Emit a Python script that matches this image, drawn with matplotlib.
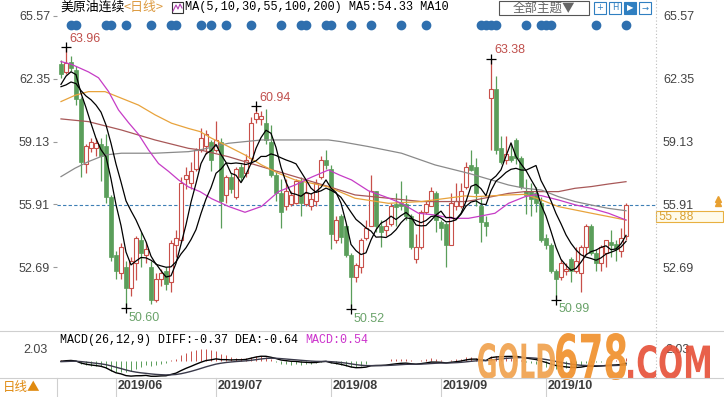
import numpy as np
import pandas as pd
import matplotlib
matplotlib.use("Agg")
import matplotlib.pyplot as plt
from matplotlib.patches import Rectangle, PathPatch
from matplotlib.textpath import TextPath
from matplotlib.font_manager import FontProperties
from matplotlib.transforms import Affine2D
from matplotlib.lines import Line2D

plt.rcParams['font.family'] = ['Liberation Sans', 'Noto Sans CJK SC', 'DejaVu Sans']

# ---- data ----
dates = pd.bdate_range("2019-05-17", "2019-10-23")

opens = [63.1, 62.7, 63.2, 62.8, 61.3, 58.0, 58.8, 58.8, 59.0, 58.9,
         56.3, 53.3, 52.4, 52.7, 51.6, 52.9, 54.1, 53.3, 52.7, 51.0,
         52.1, 52.5, 51.9, 53.8, 54.1, 57.2, 57.0, 57.7, 58.7, 58.9,
         59.1, 58.7, 59.1, 56.4, 57.3, 56.3, 57.8, 57.5, 58.3, 60.3,
         60.3, 60.1, 59.1, 57.4, 56.5, 55.8, 55.9, 56.0, 57.1, 55.9,
         55.8, 56.1, 57.3, 58.2, 57.7, 54.1, 55.3, 54.8, 53.3, 52.2,
         52.7, 54.2, 54.8, 56.6, 54.8, 54.6, 54.9, 55.9, 56.0, 55.9,
         55.3, 53.1, 53.7, 55.5, 55.8, 56.5, 55.0, 54.9, 53.8, 55.8,
         55.8, 56.8, 57.9, 57.8, 55.8, 55.0, 61.35, 61.8, 58.8, 58.2,
         58.4, 59.2, 58.3, 56.6, 56.6, 56.5, 56.0, 54.2, 53.8, 52.5,
         52.2, 52.5, 53.1, 52.5, 52.4, 53.7, 54.8, 53.4, 52.9, 53.4,
         54.0, 53.85, 53.5, 54.3]
highs = [63.3, 63.96, 63.5, 63.0, 61.4, 59.0, 59.3, 59.3, 59.3, 59.5,
         56.4, 53.5, 53.9, 53.0, 53.2, 54.3, 54.5, 54.0, 53.0, 52.4,
         52.6, 52.7, 54.1, 54.6, 57.3, 57.8, 58.1, 58.8, 59.8, 59.7,
         59.2, 60.2, 59.3, 57.4, 57.5, 57.8, 58.0, 58.5, 60.4, 60.94,
         60.7, 60.8, 60.0, 57.6, 57.2, 57.2, 56.6, 57.2, 57.3, 57.2,
         56.5, 57.2, 58.4, 58.7, 57.9, 55.3, 55.4, 54.9, 53.4, 52.9,
         54.2, 55.1, 57.4, 56.6, 55.1, 55.1, 56.0, 56.5, 57.1, 56.4,
         55.4, 54.4, 55.6, 56.1, 56.8, 56.6, 55.1, 55.0, 56.5, 57.0,
         57.0, 58.1, 58.7, 58.3, 56.3, 55.3, 63.38, 62.5, 59.4, 59.4,
         59.0, 59.3, 58.4, 57.2, 57.0, 56.8, 56.3, 54.4, 53.9, 52.6,
         53.1, 52.9, 53.2, 53.7, 53.8, 54.9, 54.9, 53.6, 53.8, 54.1,
         54.6, 54.1, 54.7, 56.0]
lows = [62.4, 62.6, 62.75, 61.0, 57.3, 57.5, 58.6, 58.4, 57.1, 56.0,
        53.0, 52.1, 52.1, 50.60, 51.2, 52.0, 52.7, 52.9, 50.8, 50.9,
        51.7, 51.5, 51.4, 53.2, 54.0, 56.7, 56.7, 57.6, 58.6, 58.5,
        57.6, 58.6, 54.7, 56.0, 56.5, 56.2, 57.1, 57.3, 58.0, 60.1,
        60.0, 59.0, 57.3, 56.1, 54.7, 55.6, 55.8, 55.9, 55.3, 55.8,
        55.6, 55.8, 57.2, 57.7, 53.6, 53.9, 53.9, 53.2, 50.52, 51.9,
        52.4, 54.1, 54.8, 54.5, 53.7, 54.3, 54.8, 54.8, 55.6, 55.1,
        53.6, 52.9, 53.6, 55.4, 55.8, 54.5, 54.1, 52.7, 53.8, 55.6,
        55.7, 56.7, 57.6, 55.8, 54.0, 54.3, 58.7, 58.5, 58.0, 58.0,
        58.1, 58.0, 56.7, 55.4, 55.3, 55.5, 54.0, 53.6, 52.4, 50.99,
        52.0, 52.3, 51.9, 52.4, 51.4, 53.3, 53.3, 52.5, 52.5, 52.7,
        53.2, 53.0, 53.2, 54.1]
closes = [62.6, 63.15, 62.9, 61.3, 58.1, 58.9, 59.1, 59.05, 58.4, 56.3,
          53.2, 52.5, 53.7, 51.6, 53.0, 54.2, 53.4, 53.6, 51.0, 52.1,
          52.4, 51.8, 53.9, 54.2, 57.0, 57.4, 57.6, 58.7, 59.3, 59.5,
          58.2, 59.2, 56.1, 57.3, 56.7, 57.7, 57.3, 58.2, 60.1, 60.6,
          60.45, 59.2, 57.4, 56.5, 55.5, 56.6, 56.4, 57.1, 56.0, 56.5,
          56.2, 57.0, 58.2, 57.9, 54.4, 55.1, 54.25, 53.3, 52.2, 52.8,
          54.1, 54.7, 56.6, 54.8, 54.5, 54.8, 55.8, 55.75, 55.8, 55.3,
          53.7, 53.7, 55.5, 55.9, 56.6, 55.1, 54.7, 53.8, 56.0, 56.1,
          56.6, 57.8, 57.65, 56.5, 55.0, 54.8, 61.8, 58.7, 58.1, 58.5,
          58.2, 58.3, 56.8, 56.4, 56.2, 56.0, 54.1, 53.8, 52.5, 52.1,
          52.9, 52.6, 52.5, 53.0, 53.7, 54.8, 53.4, 52.9, 53.7, 54.1,
          53.8, 53.6, 54.2, 55.88]
# closes of the days just before the window (for MA5 / MA10 / MACD warm-up)
prior_closes = [62.25, 61.40, 62.12, 61.70, 61.66, 61.04, 61.78, 62.02, 62.87]

# longer moving averages at candle positions
ma30_at = [0, 2, 5.5, 7.5, 9.5, 11.5, 13.5, 15.5, 17.5, 19.5, 21.5, 23.5, 25.5, 27.8,
           30.1, 33.5, 36.8, 40.1, 43.5, 46.8, 50.1, 53.5, 55.8, 58.1, 61.5, 64.8,
           68.1, 71.5, 74.8, 78.1, 81.5, 83.8, 86.8, 89.5, 92.8, 94.8, 96.1, 99.5,
           103, 106.1, 109.5, 113]
ma30 = [63.23, 63.1, 62.7, 62.4, 61.7, 60.75, 60.1, 59.5, 58.7, 58.0, 57.6, 57.16,
        56.8, 56.56, 56.2, 55.8, 55.5, 55.8, 56.56, 56.9, 57.3, 57.67, 57.4, 57.16,
        56.6, 56.3, 55.96, 55.45, 55.36, 55.19, 55.19, 55.3, 55.45, 55.96, 56.3,
        56.4, 56.35, 56.13, 55.87, 55.7, 55.45, 55.1]
ma55_at = [0, 2.8, 5.5, 8.8, 12.1, 15.5, 18.8, 22.1, 25.5, 27.8, 30.1, 33.5, 36.8,
           40.1, 43.5, 46.8, 50.1, 53.5, 58.8, 65.5, 72.1, 80.8, 82.8, 89.5, 92.8,
           96.1, 99.5, 102.8, 106.1, 109.5, 113]
ma55 = [61.18, 61.5, 61.69, 61.69, 61.35, 61.0, 60.5, 60.07, 59.8, 59.64, 59.3,
        58.87, 58.44, 57.93, 57.5, 57.16, 56.99, 56.8, 56.22, 55.96, 56.05, 56.34,
        56.3, 56.39, 56.42, 56.13, 55.79, 55.62, 55.45, 55.28, 55.1]
ma100_at = [0, 2.8, 5.5, 8.8, 12.1, 18.8, 25.5, 27.8, 33.5, 40.1, 46.8, 53.5, 55.8,
            61.5, 68.1, 74.8, 81.5, 83.8, 89.5, 92.8, 96.1, 99.5, 102.8, 106.1,
            109.5, 113]
ma100 = [57.33, 57.76, 58.1, 58.44, 58.53, 58.53, 58.61, 58.7, 59.04, 59.21, 59.21,
         59.21, 59.13, 58.87, 58.53, 57.93, 57.5, 57.33, 56.9, 56.73, 56.64, 56.3,
         56.05, 55.87, 55.7, 55.58]
ma200_at = [0, 5.5, 12.1, 18.8, 25.5, 27.8, 33.5, 40.1, 46.8, 53.5, 58.8, 65.5,
            72.1, 80.8, 82.8, 89.5, 92.8, 96.1, 99.5, 102.8, 106.1, 109.5, 113]
ma200 = [60.29, 60.15, 59.72, 59.21, 58.78, 58.70, 58.35, 57.84, 57.33, 56.82,
         56.39, 56.22, 56.05, 56.05, 56.13, 56.47, 56.56, 56.56, 56.56, 56.73,
         56.82, 56.95, 57.07]

# news markers (candle index) along the top
event_idx = [2, 3, 9, 10, 13, 18, 22, 23, 28, 30, 33, 38, 44, 48, 49, 53, 54, 58,
             62, 68, 73, 84, 85, 86, 87, 93, 96, 97, 98, 107, 113]

y_ticks = [65.57, 62.35, 59.13, 55.91, 52.69]
last_price = 55.88

RED = "#c8504a"
GREEN = "#5a9e5a"

# ---- indicators ----
all_close = pd.Series(prior_closes + closes)
n_prior = len(prior_closes)
ma5 = all_close.rolling(5).mean().values[n_prior:]
ma10 = all_close.rolling(10).mean().values[n_prior:]
ema12 = all_close.ewm(span=12, adjust=False).mean()
ema26 = all_close.ewm(span=26, adjust=False).mean()
diff = ema12 - ema26
dea = diff.ewm(span=9, adjust=False).mean()
diff = diff.values[n_prior:]
dea = dea.values[n_prior:]
hist = 2 * (diff - dea)

o = np.array(opens)
h = np.array(highs)
l = np.array(lows)
c = np.array(closes)
x = np.arange(len(c))
up = c >= o

W, H = 724, 397
fig = plt.figure(figsize=(W / 100, H / 100), dpi=100)
fig.patch.set_facecolor("white")


def fx(px):
    return px / W


def fy(py):
    return 1 - py / H


# main price panel
ax = fig.add_axes([fx(57), fy(330), 599 / W, 318 / H])
ax.set_xlim(-0.8, 119.0)
ax.set_ylim(49.46, 65.775)
for s in ax.spines.values():
    s.set_visible(False)

# wicks
ax.vlines(x[~up], l[~up], h[~up], color=GREEN, lw=0.9, zorder=2)
ax.vlines(x[up], c[up], h[up], color=RED, lw=0.9, zorder=2)
ax.vlines(x[up], l[up], o[up], color=RED, lw=0.9, zorder=2)
# bodies
body = np.maximum(np.abs(c - o), 0.04)
ax.bar(x[up], body[up], bottom=o[up], width=0.62, facecolor="white",
       edgecolor=RED, lw=0.8, zorder=3)
ax.bar(x[~up], body[~up], bottom=c[~up], width=0.7, facecolor=GREEN,
       edgecolor=GREEN, lw=0.5, zorder=3)

# moving averages
ax.plot(ma200_at, ma200, color="#a85858", lw=0.9, zorder=4)
ax.plot(ma100_at, ma100, color="#8a8a8a", lw=0.9, zorder=4)
ax.plot(ma55_at, ma55, color="#e8a33c", lw=0.9, zorder=4)
ax.plot(ma30_at, ma30, color="#c63cc6", lw=0.9, zorder=4)
ax.plot(x, ma10, color="black", lw=0.9, zorder=5)
ax.plot(x, ma5, color="black", lw=0.9, zorder=5)

# last price line
ax.axhline(last_price, color="#3d7fb5", lw=0.8, ls=(0, (3, 2)), zorder=1)


# extremes
def mark(i, price, dy, color):
    ax.plot([i], [price], marker="+", color="black", ms=7, mew=0.9, zorder=6)
    ax.annotate(f"{price:.2f}", (i, price), xytext=(3, dy), textcoords="offset pixels",
                ha="left", va="center", fontsize=9, color=color, zorder=6)


hi_color = "#c0504d"
lo_color = "#6aa36a"
mark(int(np.argmax(h[:30])), h[:30].max(), 8, hi_color)
mark(30 + int(np.argmax(h[30:60])), h[30:60].max(), 8, hi_color)
mark(60 + int(np.argmax(h[60:])), h[60:].max(), 9, hi_color)
mark(int(np.argmin(l[:30])), l[:30].min(), -10, lo_color)
mark(30 + int(np.argmin(l[30:80])), l[30:80].min(), -10, lo_color)
mark(80 + int(np.argmin(l[80:])), l[80:].min(), -9, lo_color)

# news dots
ax.plot(event_idx, [0.959] * len(event_idx), "o", color="#2f6fae", ms=6,
        transform=ax.get_xaxis_transform(), clip_on=False, zorder=6)

ax.set_xticks([])
ax.set_yticks(y_ticks)
ax.set_yticklabels([f"{v:.2f}" for v in y_ticks])
ax.tick_params(axis="y", left=True, right=False, labelleft=True, labelright=True,
               length=3, width=0.8, color="#9a9a9a", labelsize=9,
               labelcolor="#444444", pad=2)

# MACD panel
ax2 = fig.add_axes([fx(57), fy(378), 599 / W, 33 / H])
ax2.set_xlim(-0.8, 119.0)
ax2.set_ylim(-2.75, 2.65)
for s in ax2.spines.values():
    s.set_visible(False)
ax2.vlines(x, 0, hist, colors=np.where(hist >= 0, RED, GREEN), lw=0.7)
ax2.plot(x, diff, color="black", lw=1.0)
ax2.plot(x, dea, color="#3a3a4a", lw=1.0)
ax2.set_xticks([])
ax2.set_yticks([2.03])
ax2.set_yticklabels(["2.03"])
ax2.tick_params(axis="y", left=False, right=False, labelleft=True, labelright=True,
                labelsize=9, labelcolor="#444444", pad=3)

# frame lines
lc = "#cfcfcf"
fig.add_artist(Line2D([0, 1], [fy(331), fy(331)], color=lc, lw=0.8))
fig.add_artist(Line2D([0, 1], [fy(378), fy(378)], color=lc, lw=0.8))
fig.add_artist(Line2D([fx(656), fx(656)], [fy(0), fy(378)], color="#bdbdbd",
                      lw=0.8, ls=(0, (1, 2))))
fig.add_artist(Line2D([fx(57), fx(57)], [fy(378), fy(397)], color=lc, lw=0.8))

# x axis month labels
month_start = [i for i in range(1, len(dates)) if dates[i].month != dates[i - 1].month]
for i in month_start:
    px = 61 + 5 * i
    fig.add_artist(Line2D([fx(px), fx(px)], [fy(378), fy(397)], color=lc, lw=0.8))
    fig.text(fx(px + 2), fy(386), dates[i].strftime("%Y/%m"), fontsize=9,
             fontweight="bold", color="#3c3c3c", ha="left", va="center")

fig.text(fx(3), fy(387), "日线▲", fontsize=9, color="#e08a10", ha="left", va="center",
         family=["Noto Sans CJK SC", "DejaVu Sans"])

# header
fig.text(fx(60), fy(7), "美原油连续", fontsize=9.3, color="black", ha="left", va="center",
         family=["Noto Sans CJK SC", "DejaVu Sans"])
fig.text(fx(123), fy(7), "<日线>", fontsize=9.3, color="#dc9a40", ha="left", va="center",
         family=["Noto Sans CJK SC", "DejaVu Sans"])
fig.add_artist(Rectangle((fx(172), fy(13)), 11 / W, 11 / H, transform=fig.transFigure,
                         facecolor="white", edgecolor="#333333", lw=0.8))
fig.add_artist(Line2D([fx(173), fx(176), fx(178), fx(180), fx(182)],
                      [fy(11), fy(5), fy(9), fy(4), fy(8)], color="#b040b0", lw=0.8))
fig.text(fx(185), fy(7), "MA(5,10,30,55,100,200) MA5:54.33 MA10", fontsize=8.6,
         color="black", ha="left", va="center", family="Liberation Mono")

fig.add_artist(Rectangle((fx(499), fy(15)), 90 / W, 14 / H, transform=fig.transFigure,
                         facecolor="white", edgecolor="#555555", lw=0.8))
fig.text(fx(544), fy(8), "全部主题▼", fontsize=9, color="#666666", ha="center",
         va="center", family=["Noto Sans CJK SC", "DejaVu Sans"])
for k, x0 in enumerate([594, 609, 624, 639]):
    filled = k == 2
    fig.add_artist(Rectangle((fx(x0), fy(14)), 12 / W, 12 / H, transform=fig.transFigure,
                             facecolor="#2f7fc1" if filled else "white",
                             edgecolor="#2f7fc1", lw=0.8))
    fig.text(fx(x0 + 6), fy(8), ["+", "H", "▶", "→"][k], fontsize=6,
             color="white" if filled else "#2f7fc1", ha="center", va="center",
             family="DejaVu Sans")

# last price box
fig.add_artist(Rectangle((fx(656), fy(222)), 67 / W, 11 / H, transform=fig.transFigure,
                         facecolor="#fffbea", edgecolor="#e8b040", lw=0.8))
fig.text(fx(658), fy(216.5), f"{last_price:.2f}", fontsize=8.6, color="#d9a030",
         ha="left", va="center", family="Liberation Mono")
fig.add_artist(Line2D([fx(718)], [fy(199)], marker="^", color="#e8a030", ms=4))
fig.add_artist(Line2D([fx(718)], [fy(203)], marker="^", color="#e8a030", ms=4))

# MACD caption
fig.text(fx(60), fy(340), "MACD(26,12,9) DIFF:-0.37 DEA:-0.64 ", fontsize=8.4,
         color="black", ha="left", va="center", family="Liberation Mono")
fig.text(fx(60 + 35 * 7.0), fy(340), "MACD:0.54", fontsize=8.4, color="#cc33cc",
         ha="left", va="center", family="Liberation Mono")

# watermark
bold = FontProperties(family="DejaVu Sans", weight="bold")


def stretched(s, x0, x1, ytop, ybot, color):
    tp = TextPath((0, 0), s, size=100, prop=bold)
    bb = tp.get_extents()
    tr = (Affine2D().translate(-bb.x0, -bb.y0)
          .scale((x1 - x0) / bb.width, (ybot - ytop) / bb.height)
          .translate(x0, H - ybot).scale(1 / W, 1 / H))
    fig.add_artist(PathPatch(tp, transform=tr + fig.transFigure, facecolor=color,
                             edgecolor="none", alpha=0.92))


stretched("GOLD", 478, 555, 343, 379, "#f0a24e")
stretched("678", 556, 626, 333, 380, "#f0902c")
stretched(".COM", 628, 710, 345, 379, "#e6523a")

fig.savefig("out.png", dpi=100)
